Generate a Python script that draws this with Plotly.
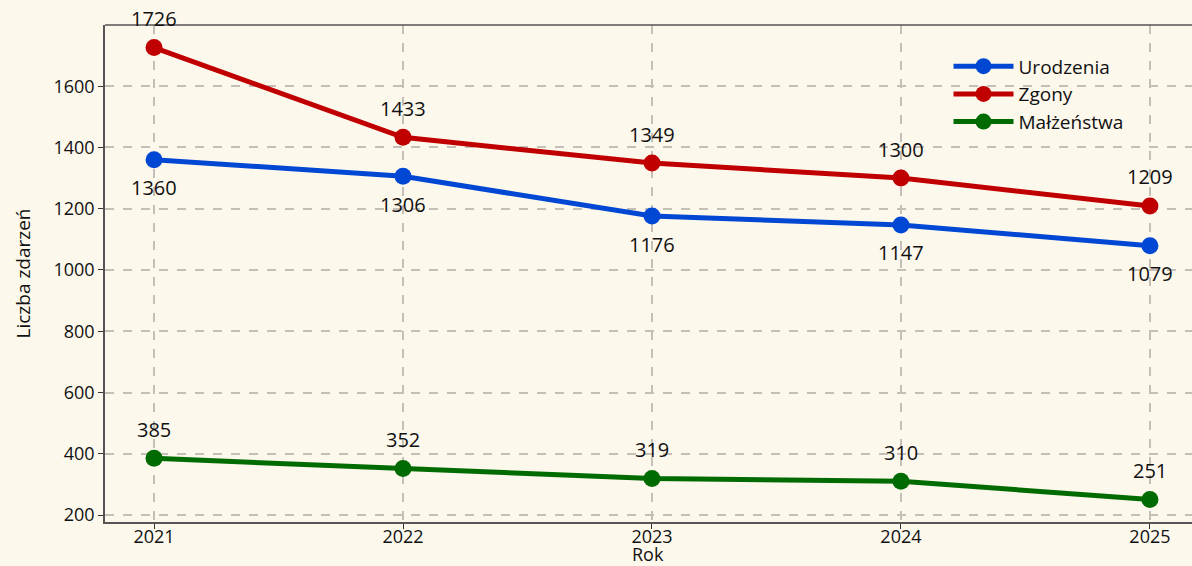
import plotly.graph_objects as go

years = [2021, 2022, 2023, 2024, 2025]
urodzenia = [1360, 1306, 1176, 1147, 1079]
zgony = [1726, 1433, 1349, 1300, 1209]
malzenstwa = [385, 352, 319, 310, 251]

series = [
    ("Urodzenia", urodzenia, "#0047d4", -28),
    ("Zgony", zgony, "#c00000", 29),
    ("Małżeństwa", malzenstwa, "#006b00", 29),
]

FONT = "'Open Sans', sans-serif"
fig = go.Figure()
annotations = []
for name, vals, color, shift in series:
    fig.add_trace(go.Scatter(
        x=years, y=vals, name=name, mode="lines+markers",
        line=dict(color=color, width=5),
        marker=dict(color=color, size=17),
    ))
    for x, v in zip(years, vals):
        annotations.append(dict(
            x=x, y=v, text=str(v), showarrow=False, yshift=shift,
            font=dict(size=20, color="#111111", family=FONT),
        ))

annotations.append(dict(
    x=0.5, y=0, xref="paper", yref="paper", text="Rok", showarrow=False,
    yanchor="middle", yshift=-32, xshift=-1, borderpad=0,
    font=dict(size=18, family=FONT, color="#111111"),
))

fig.update_layout(
    width=1192, height=566,
    paper_bgcolor="#fdf8ec", plot_bgcolor="#fdf8ec",
    margin=dict(l=105, r=0, t=25, b=44),
    font=dict(family=FONT, size=18, color="#111111"),
    annotations=annotations,
    showlegend=True,
    legend=dict(
        x=0.776, y=0.955, xanchor="left", yanchor="top",
        bgcolor="rgba(0,0,0,0)", font=dict(size=19),
        itemwidth=60, tracegroupgap=0,
    ),
)
fig.update_xaxes(
    range=[2020.803, 2025.169], tickvals=years, ticktext=[str(y) for y in years],
    showline=True, linecolor="#555555", linewidth=1.5, mirror=False,
    ticks="outside", ticklen=5, tickcolor="#333333",
    showgrid=True, gridcolor="#c4c0b8", griddash="dash", gridwidth=1.5,
    zeroline=False, tickfont=dict(size=18), ticklabelstandoff=-7,
    automargin=False,
)
fig.update_yaxes(
    range=[177.25, 1799.75], tickvals=[200, 400, 600, 800, 1000, 1200, 1400, 1600],
    showline=True, linecolor="#555555", linewidth=1.5,
    ticks="outside", ticklen=5, tickcolor="#333333",
    showgrid=True, gridcolor="#c4c0b8", griddash="dash", gridwidth=1.5,
    zeroline=False, tickfont=dict(size=18), automargin=False,
    title=dict(text="Liczba zdarzeń", font=dict(size=19), standoff=18),
)
fig.add_shape(type="line", xref="paper", yref="paper", x0=0, x1=1, y0=1, y1=1,
              line=dict(color="#555555", width=1.5))

fig.write_html("out.html", config={"displayModeBar": False},
               post_script="document.body.style.margin='0';document.body.style.background='#fdf8ec';")
